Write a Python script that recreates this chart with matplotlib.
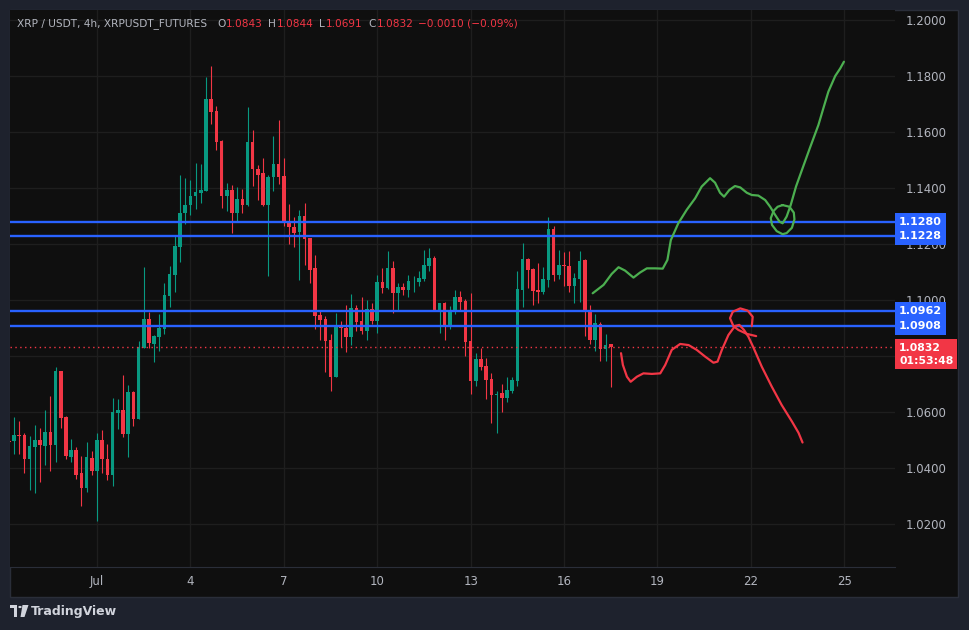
import datetime as dt
import matplotlib
matplotlib.use("Agg")
import matplotlib.pyplot as plt
import matplotlib.dates as mdates
import pandas as pd
from matplotlib.patches import Rectangle, Circle, Polygon

W, H = 969, 630

# 4h candles, first one at Jun 28 04:00
times = pd.date_range("2025-06-28 04:00", periods=117, freq="4h")
opens = [1.0496, 1.0498, 1.0518, 1.0518, 1.0432, 1.0476, 1.0500, 1.0479, 1.0529, 1.0482,
         1.0746, 1.0582, 1.0441, 1.0464, 1.0383, 1.0330, 1.0436, 1.0391, 1.0500, 1.0432,
         1.0375, 1.0598, 1.0607, 1.0523, 1.0671, 1.0576, 1.0830, 1.0931, 1.0844, 1.0869,
         1.0898, 1.1014, 1.1091, 1.1191, 1.1310, 1.1338, 1.1371, 1.1383, 1.1391, 1.1718,
         1.1675, 1.1568, 1.1373, 1.1393, 1.1312, 1.1361, 1.1341, 1.1564, 1.1468, 1.1452,
         1.1341, 1.1438, 1.1486, 1.1443, 1.1280, 1.1260, 1.1244, 1.1300, 1.1223, 1.1113,
         1.0946, 1.0932, 1.0857, 1.0726, 1.0905, 1.0900, 1.0868, 1.0971, 1.0925, 1.0889,
         1.0968, 1.0925, 1.1064, 1.1043, 1.1114, 1.1025, 1.1046, 1.1036, 1.1070, 1.1064,
         1.1075, 1.1122, 1.1150, 1.0960, 1.0989, 1.0904, 1.0956, 1.1011, 1.0996, 1.0854,
         1.0711, 1.0789, 1.0764, 1.0718, 1.0662, 1.0668, 1.0650, 1.0675, 1.0711, 1.1036,
         1.1146, 1.1111, 1.1036, 1.1029, 1.1071, 1.1254, 1.1089, 1.1125, 1.1121, 1.1050,
         1.1075, 1.1143, 1.0961, 1.0857, 1.0914, 1.0825, 1.0843]
highs = [1.0500, 1.0583, 1.0569, 1.0526, 1.0514, 1.0554, 1.0544, 1.0607, 1.0657, 1.0762,
         1.0748, 1.0584, 1.0504, 1.0476, 1.0443, 1.0493, 1.0461, 1.0524, 1.0536, 1.0486,
         1.0649, 1.0646, 1.0732, 1.0696, 1.0675, 1.0854, 1.1118, 1.0957, 1.0875, 1.0950,
         1.1061, 1.1121, 1.1232, 1.1446, 1.1437, 1.1429, 1.1489, 1.1486, 1.1796, 1.1836,
         1.1693, 1.1570, 1.1417, 1.1411, 1.1404, 1.1397, 1.1689, 1.1607, 1.1482, 1.1507,
         1.1445, 1.1586, 1.1643, 1.1507, 1.1343, 1.1296, 1.1321, 1.1346, 1.1223, 1.1161,
         1.0964, 1.0944, 1.0879, 1.0954, 1.0925, 1.0982, 1.1021, 1.0982, 1.1011, 1.1000,
         1.0989, 1.1089, 1.1114, 1.1175, 1.1139, 1.1061, 1.1061, 1.1089, 1.1086, 1.1104,
         1.1179, 1.1186, 1.1157, 1.0991, 1.0993, 1.0979, 1.1036, 1.1032, 1.1004, 1.1025,
         1.0811, 1.0829, 1.0793, 1.0739, 1.0675, 1.0700, 1.0725, 1.0725, 1.1104, 1.1204,
         1.1150, 1.1114, 1.1132, 1.1118, 1.1296, 1.1264, 1.1179, 1.1171, 1.1175, 1.1096,
         1.1175, 1.1145, 1.0982, 1.0950, 1.0921, 1.0879, 1.0844]
lows = [1.0488, 1.0450, 1.0450, 1.0383, 1.0321, 1.0312, 1.0351, 1.0411, 1.0391, 1.0423,
        1.0544, 1.0433, 1.0420, 1.0361, 1.0266, 1.0316, 1.0375, 1.0212, 1.0383, 1.0357,
        1.0337, 1.0541, 1.0512, 1.0441, 1.0551, 1.0574, 1.0828, 1.0830, 1.0780, 1.0819,
        1.0880, 1.0976, 1.1030, 1.1137, 1.1270, 1.1305, 1.1326, 1.1345, 1.1389, 1.1630,
        1.1535, 1.1330, 1.1319, 1.1241, 1.1282, 1.1312, 1.1337, 1.1408, 1.1358, 1.1337,
        1.1087, 1.1391, 1.1416, 1.1266, 1.1201, 1.1191, 1.1073, 1.1126, 1.1062, 1.0898,
        1.0857, 1.0743, 1.0676, 1.0724, 1.0832, 1.0815, 1.0840, 1.0890, 1.0880, 1.0857,
        1.0914, 1.0882, 1.1025, 1.1039, 1.0954, 1.0964, 1.1018, 1.1011, 1.1029, 1.1050,
        1.1068, 1.1104, 1.0961, 1.0882, 1.0857, 1.0896, 1.0950, 1.0964, 1.0800, 1.0664,
        1.0693, 1.0750, 1.0646, 1.0561, 1.0525, 1.0600, 1.0636, 1.0668, 1.0693, 1.0975,
        1.1043, 1.0982, 1.0989, 1.1021, 1.1046, 1.1068, 1.1075, 1.1050, 1.1029, 1.0989,
        1.0993, 1.0871, 1.0843, 1.0818, 1.0782, 1.0782, 1.0691]
closes = [1.0494, 1.0518, 1.0516, 1.0432, 1.0479, 1.0500, 1.0482, 1.0529, 1.0482, 1.0746,
          1.0580, 1.0443, 1.0464, 1.0375, 1.0330, 1.0439, 1.0391, 1.0500, 1.0431, 1.0376,
          1.0600, 1.0607, 1.0523, 1.0671, 1.0576, 1.0831, 1.0931, 1.0845, 1.0872, 1.0900,
          1.1017, 1.1093, 1.1193, 1.1310, 1.1339, 1.1371, 1.1386, 1.1393, 1.1718, 1.1673,
          1.1566, 1.1373, 1.1393, 1.1312, 1.1361, 1.1341, 1.1564, 1.1467, 1.1448, 1.1339,
          1.1439, 1.1486, 1.1441, 1.1280, 1.1260, 1.1241, 1.1300, 1.1219, 1.1108, 1.0944,
          1.0929, 1.0854, 1.0726, 1.0905, 1.0899, 1.0868, 1.0971, 1.0921, 1.0890, 1.0968,
          1.0925, 1.1064, 1.1043, 1.1114, 1.1025, 1.1046, 1.1036, 1.1068, 1.1071, 1.1079,
          1.1125, 1.1150, 1.0962, 1.0989, 1.0904, 1.0961, 1.1011, 1.0993, 1.0850, 1.0711,
          1.0789, 1.0761, 1.0714, 1.0661, 1.0665, 1.0650, 1.0679, 1.0714, 1.1039, 1.1146,
          1.1107, 1.1032, 1.1029, 1.1075, 1.1254, 1.1089, 1.1125, 1.1123, 1.1050, 1.1079,
          1.1139, 1.0957, 1.0857, 1.0918, 1.0825, 1.0839, 1.0832]

levels = [1.1280, 1.1228, 1.0962, 1.0908]
last_price = 1.0832
countdown = "01:53:48"

price_ticks = [1.02, 1.04, 1.06, 1.08, 1.10, 1.12, 1.14, 1.16, 1.18, 1.20]
date_ticks = [dt.datetime(2025, 7, d) for d in (1, 4, 7, 10, 13, 16, 19, 22, 25)]
date_labels = ["Jul", "4", "7", "10", "13", "16", "19", "22", "25"]

# hand drawn paths: days after Jul 1 00:00, price
green_t = [15.92, 16.27, 16.53, 16.75, 16.96, 17.23, 17.44, 17.66, 17.93, 18.17, 18.32,
           18.43, 18.67, 18.94, 19.21, 19.42, 19.69, 19.85, 20.01, 20.14, 20.31, 20.49,
           20.66, 20.87, 21.03, 21.24, 21.46, 21.62, 21.78, 21.92, 22.02, 22.15, 22.28,
           22.45, 22.64, 22.90, 23.17, 23.33, 23.49, 23.71, 23.87, 23.99]
green_p = [1.1024, 1.1054, 1.1093, 1.1117, 1.1105, 1.1080, 1.1098, 1.1113, 1.1113, 1.1112,
           1.1143, 1.1214, 1.1274, 1.1322, 1.1363, 1.1405, 1.1435, 1.1419, 1.1383, 1.1369,
           1.1393, 1.1407, 1.1402, 1.1383, 1.1375, 1.1373, 1.1357, 1.1333, 1.1304, 1.1280,
           1.1274, 1.1298, 1.1339, 1.1405, 1.1464, 1.1544, 1.1625, 1.1685, 1.1744, 1.1800,
           1.1827, 1.1851]
green_ring_t = [22.02, 22.24, 22.38, 22.40, 22.32, 22.15, 22.02, 21.83, 21.68, 21.64,
                21.73, 21.86, 22.02]
green_ring_p = [1.1339, 1.1333, 1.1312, 1.1288, 1.1258, 1.1239, 1.1235, 1.1246, 1.1268,
                1.1292, 1.1318, 1.1333, 1.1339]
red_t = [16.83, 16.89, 17.02, 17.14, 17.34, 17.55, 17.82, 18.09, 18.25, 18.46, 18.73,
         19.00, 19.26, 19.53, 19.80, 19.93, 20.07, 20.28, 20.49, 20.63, 20.78, 20.92,
         21.08, 21.35, 21.67, 21.99, 22.32, 22.53, 22.66]
red_p = [1.0810, 1.0768, 1.0726, 1.0708, 1.0726, 1.0738, 1.0736, 1.0738, 1.0768, 1.0822,
         1.0843, 1.0839, 1.0822, 1.0798, 1.0776, 1.0780, 1.0822, 1.0875, 1.0907, 1.0911,
         1.0893, 1.0869, 1.0831, 1.0762, 1.0691, 1.0625, 1.0566, 1.0526, 1.0491]
red_ring_t = [21.17, 20.87, 20.60, 20.44, 20.33, 20.42, 20.66, 20.90, 21.06, 21.03]
red_ring_p = [1.0871, 1.0879, 1.0893, 1.0907, 1.0935, 1.0958, 1.0970, 1.0962, 1.0940, 1.0907]

UP, DOWN = "#089981", "#f23645"
BLUE = "#2962ff"
TXT = "#b2b5be"


def fx(x):
    return x / W


def fy(y):
    return 1 - y / H


fig = plt.figure(figsize=(W / 100, H / 100), dpi=100, facecolor="#1e222d")
fig.patches.append(Rectangle((fx(10), fy(597)), fx(958) - fx(10), fy(10) - fy(597),
                             transform=fig.transFigure, fc="#0f0f0f", ec="#2a2e39",
                             lw=1, zorder=-10))

ax = fig.add_axes([fx(10), fy(567), (895 - 10) / W, (567 - 10) / H])
ax.set_facecolor("#0f0f0f")
for s in ("top", "left", "right"):
    ax.spines[s].set_visible(False)
ax.spines["bottom"].set_color("#2a2e39")

# candles
x = mdates.date2num(times)
body_w = 0.116
for xi, o, h, l, c in zip(x, opens, highs, lows, closes):
    col = UP if c >= o else DOWN
    ax.vlines(xi, l, h, color=col, lw=0.8, zorder=2)
    ax.bar(xi, max(abs(c - o), 0.00025), bottom=min(o, c), width=body_w,
           color=col, lw=0, zorder=2)

# support / resistance levels
for lv in levels:
    ax.axhline(lv, color=BLUE, lw=1.7, zorder=3)
ax.axhline(last_price, color=DOWN, lw=1, ls=(0, (1, 2.5)), zorder=3)

# drawings
jul1 = mdates.date2num(dt.datetime(2025, 7, 1))
kw = dict(lw=1.6, solid_capstyle="round", solid_joinstyle="round", zorder=4)
ax.plot([jul1 + t for t in green_t], green_p, color="#4caf50", **kw)
ax.plot([jul1 + t for t in green_ring_t], green_ring_p, color="#4caf50", **kw)
ax.plot([jul1 + t for t in red_t], red_p, color=DOWN, **kw)
ax.plot([jul1 + t for t in red_ring_t], red_ring_p, color=DOWN, **kw)

ax.set_xlim(jul1 - 2.795, jul1 + 25.63)
ax.set_ylim(1.00464, 1.20357)

ax.set_xticks(mdates.date2num(date_ticks))
ax.set_xticklabels(date_labels)
ax.set_yticks(price_ticks)
ax.set_yticklabels([f"{p:.4f}" for p in price_ticks])
ax.yaxis.tick_right()
ax.tick_params(axis="x", length=0, pad=6, colors=TXT, labelsize=8.5)
ax.tick_params(axis="y", length=0, pad=8, colors=TXT, labelsize=8.5)
ax.grid(True, color="#1e1e1e", lw=1)
ax.set_axisbelow(True)

# price-scale labels
yt = ax.get_yaxis_transform()
for lv in levels:
    ax.text(1.0 + 4 / 885, lv, f"{lv:.4f}", transform=yt, ha="left", va="center",
            color="white", fontsize=8, fontweight="bold", clip_on=False, zorder=5,
            bbox=dict(boxstyle="square,pad=0.34", fc=BLUE, ec="none"))
ax.text(1.0 + 4 / 885, last_price - 0.0026, f"{last_price:.4f}\n{countdown}",
        transform=yt, ha="left", va="center", color="white", fontsize=7.8,
        fontweight="bold", linespacing=1.35, clip_on=False, zorder=5,
        bbox=dict(boxstyle="square,pad=0.34", fc=DOWN, ec="none"))

# header
header = [("XRP / USDT, 4h, XRPUSDT_FUTURES", TXT, 17), ("O", TXT, 217),
          ("1.0843", DOWN, 226), ("H", TXT, 268), ("1.0844", DOWN, 277),
          ("L", TXT, 319), ("1.0691", DOWN, 326), ("C", TXT, 368),
          ("1.0832", DOWN, 377), ("\u22120.0010 (\u22120.09%)", DOWN, 418)]
for txt, col, xp in header:
    fig.text(fx(xp), fy(24), txt, color=col, fontsize=7.6, ha="left", va="center")

# TradingView logo
logo = "#d1d4dc"
fig.patches.append(Rectangle((fx(10), fy(608)), 7 / W, 3 / H, transform=fig.transFigure,
                             fc=logo, ec="none"))
fig.patches.append(Rectangle((fx(13.5), fy(617)), 3.5 / W, 12 / H,
                             transform=fig.transFigure, fc=logo, ec="none"))
fig.patches.append(Circle((fx(20), fy(607)), 1.7 / W, transform=fig.transFigure,
                          fc=logo, ec="none"))
fig.patches.append(Polygon([(fx(22.5), fy(605)), (fx(28.5), fy(605)), (fx(24.5), fy(617)),
                            (fx(20.5), fy(617))], closed=True, transform=fig.transFigure,
                           fc=logo, ec="none"))
fig.text(fx(31), fy(611), "TradingView", color=logo, fontsize=9, fontweight="bold",
         ha="left", va="center")

fig.savefig("out.png", dpi=100, facecolor=fig.get_facecolor())
